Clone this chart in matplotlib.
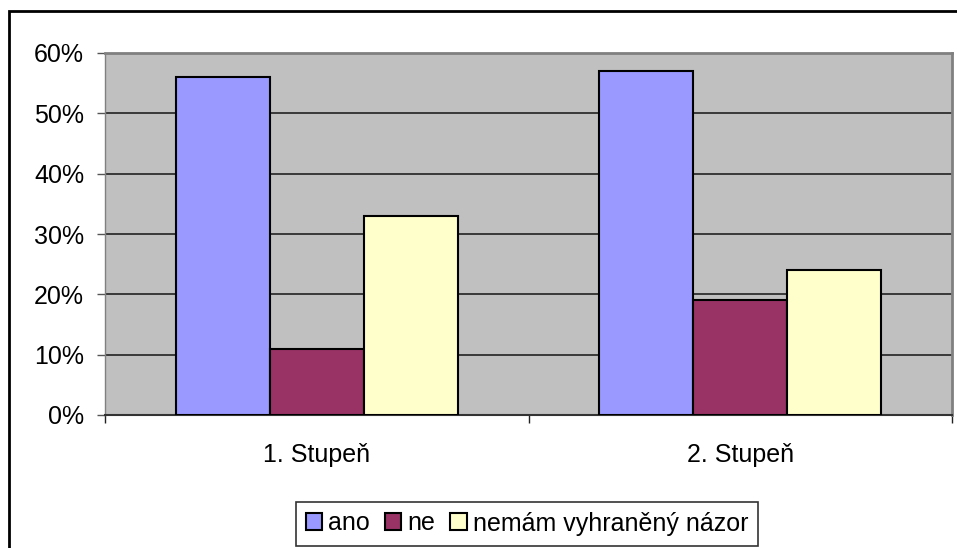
import matplotlib
matplotlib.use("Agg")
import matplotlib.pyplot as plt
from matplotlib.patches import Rectangle
import numpy as np

# data
groups = ["1. Stupeň", "2. Stupeň"]
series = ["ano", "ne", "nemám vyhraněný názor"]
ano = [56, 57]
ne = [11, 19]
nazor = [33, 24]
colors = ["#9999FF", "#993366", "#FFFFCC"]
yticks = [0, 10, 20, 30, 40, 50, 60]

plt.rcParams['font.family'] = ['Liberation Sans', 'DejaVu Sans']

fig = plt.figure(figsize=(9.57, 5.48), dpi=100)
ax = fig.add_axes([105 / 957, 1 - 415 / 548, 847 / 957, 362 / 548])
ax.set_facecolor("#C0C0C0")

x = np.arange(len(groups))
w = 1 / 4.5
for i, (vals, name) in enumerate(zip([ano, ne, nazor], series)):
    ax.bar(x + (i - 1) * w, vals, width=w, color=colors[i], edgecolor="black",
           linewidth=1.5, label=name, zorder=3)

ax.set_ylim(0, 60)
ax.set_xlim(-0.5, len(groups) - 0.5)
ax.set_yticks(yticks)
ax.set_yticklabels([f"{t}%" for t in yticks], fontsize=18)
ax.yaxis.grid(True, color="#222222", linewidth=1.2, zorder=1)
ax.tick_params(axis="y", length=6, width=1, color="#555555", pad=9)

ax.set_xticks(x)
ax.set_xticklabels(groups, fontsize=18)
ax.set_xticks(np.arange(-0.5, len(groups)), minor=True)
ax.tick_params(axis="x", which="major", length=0, pad=20)
ax.tick_params(axis="x", which="minor", length=6, width=1, color="#222222")

for side in ["top", "right"]:
    ax.spines[side].set_color("#808080")
    ax.spines[side].set_linewidth(2)
ax.spines["left"].set_color("#808080")
ax.spines["left"].set_linewidth(1)
ax.spines["bottom"].set_color("#333333")
ax.spines["bottom"].set_linewidth(1.5)

leg = fig.legend(loc="center", bbox_to_anchor=(527 / 957, 1 - 523.5 / 548), ncol=3,
                 fontsize=18, frameon=True, fancybox=False, edgecolor="black",
                 handlelength=0.65, handleheight=0.65, handletextpad=0.25,
                 columnspacing=0.6, borderpad=0.4, borderaxespad=0)
leg.get_frame().set_linewidth(1.2)

# outer chart frame (cut off at right and bottom in the reference)
fig.patches.append(Rectangle((9 / 957, -0.05), 1.1, 1 - 11 / 548 + 0.05,
                             transform=fig.transFigure, fill=False,
                             edgecolor="black", linewidth=2))

fig.savefig("out.png", dpi=100)
